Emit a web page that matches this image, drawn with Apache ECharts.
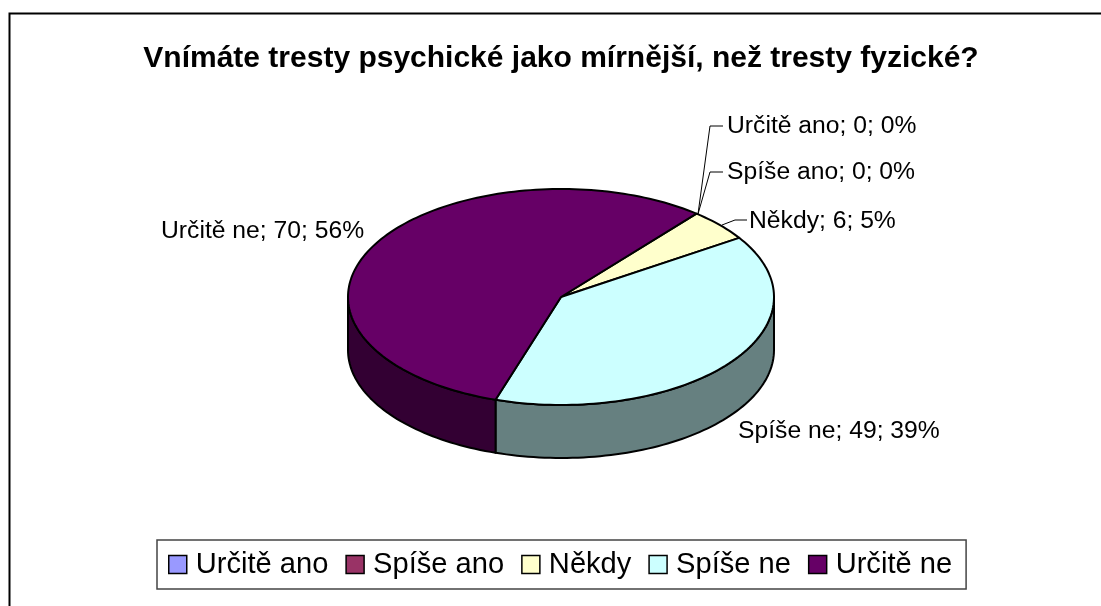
<!DOCTYPE html>
<html>
<head>
<meta charset="utf-8">
<title>Tresty</title>
<script src="https://cdn.jsdelivr.net/npm/echarts@6/dist/echarts.min.js"></script>
<style>
  html, body { margin: 0; padding: 0; background: #fff; }
  #chart { width: 1101px; height: 606px; }
</style>
</head>
<body>
<div id="chart"></div>
<script>
const titleText = 'Vnímáte tresty psychické jako mírnější, než tresty fyzické?';
const categories = ['Určitě ano', 'Spíše ano', 'Někdy', 'Spíše ne', 'Určitě ne'];
const values = [0, 0, 6, 49, 70];
const topColors = ['#9999FF', '#993366', '#FFFFCC', '#CCFFFF', '#660066'];
const sideColors = ['#4D4D80', '#4D1A33', '#808066', '#668080', '#330033'];

// where each label sits, and its leader line if it has one
const labelSpots = [
  { x: 727, y: 126, leader: [[698, 214], [710, 126], [723, 126]] },
  { x: 727, y: 172, leader: [[698, 214], [710, 172], [723, 172]] },
  { x: 749, y: 221, leader: [[722, 225], [735, 220], [747, 220]] },
  { x: 738, y: 431 },
  { x: 161, y: 231 }
];

// the tilted pie
const cx = 561, cy = 297, rx = 213, ry = 108, depth = 53;
const startAngle = 39.5;

const total = values.reduce((a, b) => a + b, 0);

function ringPoint(angle, drop) {
  const rad = angle * Math.PI / 180;
  return [cx + rx * Math.sin(rad), cy - ry * Math.cos(rad) + (drop || 0)];
}

function arcPoints(from, to, drop) {
  const pts = [];
  const steps = Math.max(2, Math.ceil((to - from) / 1.5));
  for (let i = 0; i <= steps; i++) {
    pts.push(ringPoint(from + (to - from) * i / steps, drop));
  }
  return pts;
}

const lineStyle = { stroke: '#000', lineWidth: 2, lineJoin: 'round' };

function renderSlice(index) {
  return function (params, api) {
    const value = api.value(0);
    const before = values.slice(0, index).reduce((a, b) => a + b, 0);
    const from = startAngle + before / total * 360;
    const to = from + value / total * 360;
    const children = [];

    if (value > 0) {
      // only the front half of the rim shows
      const sideFrom = Math.max(from, 90);
      const sideTo = Math.min(to, 270);
      if (sideTo > sideFrom) {
        const upper = arcPoints(sideFrom, sideTo, 0);
        const lower = arcPoints(sideFrom, sideTo, depth).reverse();
        children.push({
          type: 'polygon',
          z2: 1,
          shape: { points: upper.concat(lower) },
          style: Object.assign({ fill: sideColors[index] }, lineStyle)
        });
      }
      children.push({
        type: 'polygon',
        z2: 2,
        shape: { points: [[cx, cy]].concat(arcPoints(from, to, 0)) },
        style: Object.assign({ fill: topColors[index] }, lineStyle)
      });
    }

    const spot = labelSpots[index];
    if (spot.leader) {
      children.push({
        type: 'polyline',
        z2: 3,
        shape: { points: spot.leader },
        style: { stroke: '#000', lineWidth: 1, fill: null }
      });
    }
    children.push({
      type: 'text',
      z2: 4,
      style: {
        x: spot.x,
        y: spot.y,
        text: categories[index] + '; ' + value + '; ' + Math.round(value / total * 100) + '%',
        fill: '#000',
        font: '24.7px "Liberation Sans", Arial, sans-serif',
        align: 'left',
        verticalAlign: 'middle'
      }
    });
    return { type: 'group', children: children };
  };
}

const chart = echarts.init(document.getElementById('chart'), null, { renderer: 'canvas' });

chart.setOption({
  backgroundColor: '#fff',
  animation: false,
  title: {
    text: titleText,
    left: 556,
    top: 39,
    textAlign: 'center',
    textStyle: {
      color: '#000',
      fontFamily: '"Liberation Sans", Arial, sans-serif',
      fontWeight: 'bold',
      fontSize: 30
    }
  },
  legend: {
    left: 157,
    top: 540,
    padding: [10, 14, 10, 11],
    itemGap: 17,
    itemWidth: 18,
    itemHeight: 18,
    borderColor: '#444',
    borderWidth: 1.5,
    selectedMode: false,
    textStyle: {
      color: '#000',
      fontFamily: '"Liberation Sans", Arial, sans-serif',
      fontSize: 29.1,
      padding: [0, 0, 0, 4]
    },
    data: categories.map((name, i) => ({
      name: name,
      icon: 'rect',
      itemStyle: { color: topColors[i], borderColor: '#000', borderWidth: 1.5 }
    }))
  },
  graphic: [
    {
      type: 'polyline',
      silent: true,
      shape: { points: [[9.5, 606], [9.5, 13.5], [1101, 13.5]] },
      style: { stroke: '#000', lineWidth: 2, fill: null }
    }
  ],
  series: categories.map((name, i) => ({
    type: 'custom',
    name: name,
    coordinateSystem: 'none',
    silent: true,
    itemStyle: { color: topColors[i] },
    data: [values[i]],
    renderItem: renderSlice(i)
  }))
});
</script>
</body>
</html>
